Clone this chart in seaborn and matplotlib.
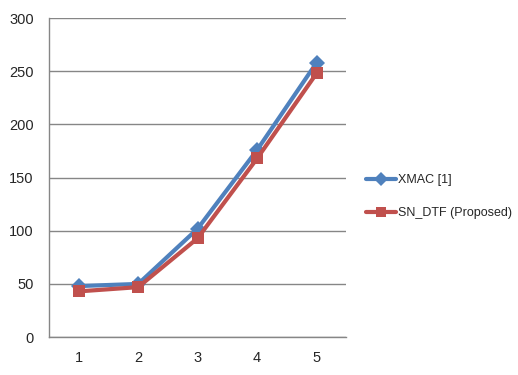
import numpy as np
import pandas as pd
import seaborn as sns
import matplotlib.pyplot as plt
from matplotlib.ticker import FixedLocator

# === Data ===
x_vals = [1, 2, 3, 4, 5]
xmac = [48, 50, 102, 176, 258]
sn_dtf = [43, 47, 93, 168, 248]
series_names = ["XMAC [1]", "SN_DTF (Proposed)"]

df = pd.DataFrame({
    "x": x_vals * 2,
    "y": xmac + sn_dtf,
    "series": [series_names[0]] * 5 + [series_names[1]] * 5,
})

sns.set_style("white")
plt.rcParams['font.family'] = ['Liberation Sans', 'DejaVu Sans']

fig = plt.figure(figsize=(5.18, 3.75), dpi=100)
ax = fig.add_axes([0.0946, 0.101, 0.574, 0.851])

palette = {series_names[0]: "#4F81BD", series_names[1]: "#C0504D"}
sns.lineplot(data=df, x="x", y="y", hue="series", style="series",
             markers={series_names[0]: "D", series_names[1]: "s"},
             dashes=False, palette=palette, linewidth=3,
             markersize=8, markeredgewidth=0, ax=ax)

ax.set_xlim(0.5, 5.5)
ax.set_ylim(0, 300)
ax.set_yticks(range(0, 301, 50))
ax.set_xticks(x_vals)
ax.xaxis.set_minor_locator(FixedLocator(np.arange(0.5, 5.6, 1)))
ax.tick_params(axis="x", which="major", length=0, pad=10, labelsize=10.5)
ax.tick_params(axis="x", which="minor", length=5, color="#868686", width=1)
ax.tick_params(axis="y", length=5, color="#868686", labelsize=10.5, pad=6)
ax.yaxis.grid(True, color="#868686", linewidth=1)
ax.set_axisbelow(True)
ax.set_xlabel("")
ax.set_ylabel("")
for s in ["top", "right"]:
    ax.spines[s].set_visible(False)
for s in ["left", "bottom"]:
    ax.spines[s].set_color("#868686")
    ax.spines[s].set_linewidth(1)

leg = ax.legend(loc="center left", bbox_to_anchor=(1.05, 0.44), frameon=False,
                fontsize=9, handlelength=2.4, labelspacing=1.65, borderaxespad=0,
                handletextpad=0.15, markerscale=0.85)

plt.savefig("out.png", dpi=100)
